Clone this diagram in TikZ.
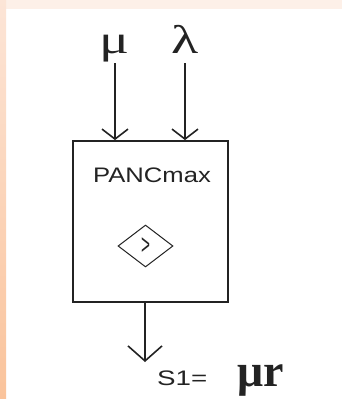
\documentclass[tikz,border=0pt]{standalone}
\usepackage{fontspec}
\setmainfont{Liberation Serif}
\setsansfont{Liberation Sans}
\usetikzlibrary{arrows.meta, shapes.geometric, positioning, calc}
\definecolor{GrisTinta}     {RGB}{35, 35, 35}
\definecolor{MelocotonClaro}{RGB}{253,240,232}
\definecolor{MelocotonMedio}{RGB}{252,229,215}
\definecolor{Naranja}       {RGB}{250,195,155}

\begin{document}
\begin{tikzpicture}[x=1pt,y=-1pt,
    caja/.style={draw=GrisTinta,line width=1.8pt,minimum width=155pt,minimum height=161pt,inner sep=0pt},
    rombo/.style={diamond,draw=GrisTinta,line width=1pt,minimum width=55pt,minimum height=42pt,inner sep=0pt,text=GrisTinta},
    griego/.style={inner sep=0pt,anchor=base,text depth=10pt,text=GrisTinta,font=\fontsize{40}{40}\selectfont},
    rotulo/.style={inner sep=0pt,anchor=base west,text=GrisTinta,font=\sffamily\fontsize{21}{21}\selectfont},
    flechaent/.style={draw=GrisTinta,line width=1.6pt,-{Straight Barb[length=10pt,width=26pt]}},
    flechasal/.style={draw=GrisTinta,line width=1.6pt,-{Straight Barb[length=15pt,width=34pt]}}]
      % fondo
      \fill[white] (0,0) rectangle (342,399);
      \fill[MelocotonClaro] (0,0) rectangle (342,9);
      \shade[top color=MelocotonMedio,bottom color=Naranja] (0,0) rectangle (6,399);
      % bloque
      \node[caja] (caja) at (150.5,221.5) {};
      \node[rotulo] (nombre) at (93,182) {\scalebox{1.22}[1]{PANCmax}};
      \node[rombo] (comparador) at (145.5,246) {\sffamily\fontsize{18}{18}\selectfont\scalebox{0.85}[1.6]{>}};
      % entradas
      \foreach \nom/\px/\simb in {mu/115/μ,lam/185/λ}{
        \node[griego] (\nom) at (\px,53) {\scalebox{1.4}[1]{\simb}};
        \draw[flechaent] (\nom.south) -- (\nom.south |- caja.north);
      }
      % salida
      \coordinate (salida) at (145,362);
      \draw[flechasal] (salida |- caja.south) -- (salida);
      \node[rotulo] (s1) at (157,385) {\scalebox{1.32}[1]{S1=}};
      \node[inner sep=0pt,anchor=base west,text=GrisTinta,font=\bfseries\fontsize{46}{46}\selectfont] (mur) at (237,386) {μr};
\end{tikzpicture}
\end{document}
